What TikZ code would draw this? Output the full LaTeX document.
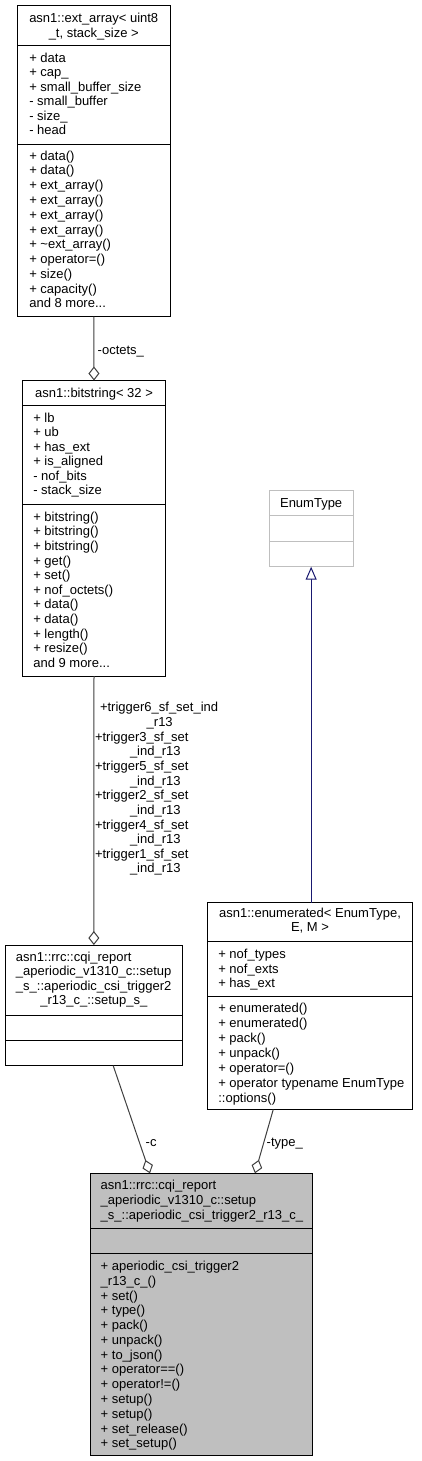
\documentclass[tikz,border=0pt]{standalone}
\usepackage{fontspec}
\setmainfont{Liberation Sans}
\usetikzlibrary{arrows.meta,calc}
\definecolor{edgegray}{HTML}{404040}
\definecolor{navyline}{HTML}{191970}
\definecolor{fillgray}{HTML}{BFBFBF}
\definecolor{extgray}{HTML}{BFBFBF}
\newcommand\fs[1]{\fontsize{13}{#1}\selectfont}
\tikzset{
  box/.style={draw=black, line width=1pt, rectangle, inner sep=0pt, outer sep=0pt, anchor=north west},
  sepline/.style={draw=black, line width=1pt},
  txt/.style={inner sep=0pt, outer sep=0pt, align=left, anchor=base west},
  ctxt/.style={inner sep=0pt, outer sep=0pt, align=center, anchor=base},
  agg/.style={draw=edgegray, line width=1pt, -{Diamond[length=14pt, width=11pt, fill=white]}},
  inh/.style={draw=navyline, line width=1pt, -{Triangle[length=13pt, width=11pt, fill=white]}},
}
\newcommand\hsep[3][black]{\draw[sepline, draw=#1] ([yshift=-#3pt]#2.north west) -- ([yshift=-#3pt]#2.north east);}
\begin{document}
\begin{tikzpicture}[x=1pt,y=-1pt]
\useasboundingbox (0,0) rectangle (421,1461);
\fill[white] (0,0) rectangle (421,1461);

% ext_array
\node[box, minimum width=152.5pt, minimum height=311pt] (ext) at (17.5,5.5) {};
\hsep{ext}{40.5}
\hsep{ext}{139.2}
\node[ctxt, font=\fs{14.5}] (extT) at (93.75,37.3) {asn1::ext\_array< uint8\\\_t, stack\_size >};
\node[txt, font=\fs{14.5}] (extA) at (29.3,135) {+ data\\+ cap\_\\+ small\_buffer\_size\\- small\_buffer\\- size\_\\- head};
\node[txt, font=\fs{14.76}] (extM) at (29.3,307.8) {+ data()\\+ data()\\+ ext\_array()\\+ ext\_array()\\+ ext\_array()\\+ ext\_array()\\+ \textasciitilde ext\_array()\\+ operator=()\\+ size()\\+ capacity()\\and 8 more...};

% bitstring
\node[box, minimum width=142.6pt, minimum height=295.5pt] (bit) at (22.7,380.5) {};
\hsep{bit}{25.2}
\hsep{bit}{124.2}
\node[ctxt, font=\fs{14.5}] (bitT) at (94,397.8) {asn1::bitstring< 32 >};
\node[txt, font=\fs{14.5}] (bitA) at (33.3,494.7) {+ lb\\+ ub\\+ has\_ext\\+ is\_aligned\\- nof\_bits\\- stack\_size};
\node[txt, font=\fs{14.6}] (bitM) at (33.3,667.2) {+ bitstring()\\+ bitstring()\\+ bitstring()\\+ get()\\+ set()\\+ nof\_octets()\\+ data()\\+ data()\\+ length()\\+ resize()\\and 9 more...};

% setup_s
\node[box, minimum width=177.7pt, minimum height=120.7pt] (setup) at (5,945) {};
\hsep{setup}{70}
\hsep{setup}{95.7}
\node[txt, font=\fs{14.5}] (setupT) at (16,990.2) {asn1::rrc::cqi\_report\\\_aperiodic\_v1310\_c::setup\\\_s\_::aperiodic\_csi\_trigger2};
\node[ctxt, font=\fs{14.5}] (setupT2) at (93.85,1004.7) {\_r13\_c\_::setup\_s\_};

% EnumType
\node[box, draw=extgray, minimum width=84.3pt, minimum height=76pt] (enumT) at (269,490.7) {};
\hsep[extgray]{enumT}{25}
\hsep[extgray]{enumT}{50.6}
\node[ctxt, font=\fs{14.5}] (enumTT) at (311.15,507.8) {EnumType};

% enumerated
\node[box, minimum width=205.4pt, minimum height=206.8pt] (enumd) at (207.3,902.7) {};
\hsep{enumd}{39}
\hsep{enumd}{94}
\node[ctxt, font=\fs{14}] (enumdT) at (310,931.6) {asn1::enumerated< EnumType,\\E, M >};
\node[txt, font=\fs{14.5}] (enumdA) at (218.3,987.5) {+ nof\_types\\+ nof\_exts\\+ has\_ext};
\node[txt, font=\fs{14.9}] (enumdM) at (218.3,1102.2) {+ enumerated()\\+ enumerated()\\+ pack()\\+ unpack()\\+ operator=()\\+ operator typename EnumType\\::options()};

% main class
\node[box, fill=fillgray, minimum width=222pt, minimum height=281.7pt] (main) at (90.7,1173.3) {};
\hsep{main}{55}
\hsep{main}{80}
\node[txt, font=\fs{15}] (mainT) at (100.7,1219.7) {asn1::rrc::cqi\_report\\\_aperiodic\_v1310\_c::setup\\\_s\_::aperiodic\_csi\_trigger2\_r13\_c\_};
\node[txt, font=\fs{14.78}] (mainM) at (100.7,1447.86) {+ aperiodic\_csi\_trigger2\\\_r13\_c\_()\\+ set()\\+ type()\\+ pack()\\+ unpack()\\+ to\_json()\\+ operator==()\\+ operator!=()\\+ setup()\\+ setup()\\+ set\_release()\\+ set\_setup()};

% connectors
\draw[agg] (ext.south) -- (bit.north);
\node[txt, font=\fs{14.5}] (lOct) at (97.7,354.5) {-octets\_};
\draw[agg] (bit.south) -- (setup.north);
\node[txt, font=\fs{14.5}] (l1) at (100,711.8) {+trigger6\_sf\_set\_ind};
\node[txt, font=\fs{14.5}] (l2) at (146.7,726.45) {\_r13};
\node[txt, font=\fs{14.5}] (l3) at (95,741.1) {+trigger3\_sf\_set};
\node[txt, font=\fs{14.5}] (l4) at (130,755.75) {\_ind\_r13};
\node[txt, font=\fs{14.5}] (l5) at (95,770.4) {+trigger5\_sf\_set};
\node[txt, font=\fs{14.5}] (l6) at (130,785.05) {\_ind\_r13};
\node[txt, font=\fs{14.5}] (l7) at (95,799.7) {+trigger2\_sf\_set};
\node[txt, font=\fs{14.5}] (l8) at (130,814.35) {\_ind\_r13};
\node[txt, font=\fs{14.5}] (l9) at (95,829) {+trigger4\_sf\_set};
\node[txt, font=\fs{14.5}] (l10) at (130,843.65) {\_ind\_r13};
\node[txt, font=\fs{14.5}] (l11) at (95,858.3) {+trigger1\_sf\_set};
\node[txt, font=\fs{14.5}] (l12) at (130,872.95) {\_ind\_r13};

\draw[agg] ($(setup.south west)!0.609!(setup.south east)$) -- ($(main.north west)!0.267!(main.north east)$);
\node[txt, font=\fs{14.5}] (lC) at (145.7,1146.2) {-c};
\draw[agg] ($(enumd.south west)!0.321!(enumd.south east)$) -- ($(main.north west)!0.740!(main.north east)$);
\node[txt, font=\fs{14.5}] (lType) at (266.7,1146.2) {-type\_};

\draw[inh] (enumT.south |- enumd.north) -- (enumT.south);
\end{tikzpicture}
\end{document}
